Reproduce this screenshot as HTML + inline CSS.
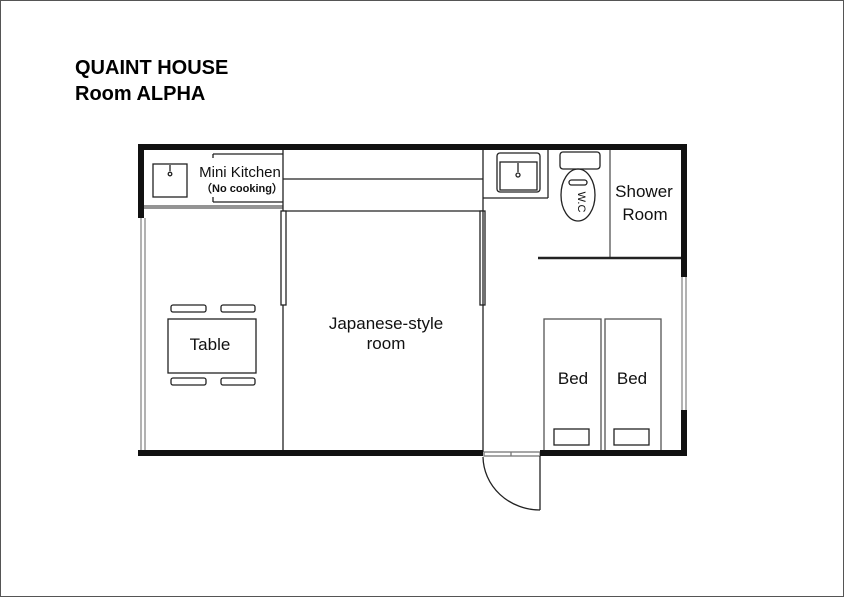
<!DOCTYPE html><html><head><style>body{margin:0;background:#fff}svg{display:block}</style></head><body>
<svg width="844" height="597" xmlns="http://www.w3.org/2000/svg" font-family="Liberation Sans, sans-serif">
<rect x="0.5" y="0.5" width="843" height="596" fill="#fff" stroke="#555"/>
<text x="75" y="74" font-size="20" font-weight="bold" fill="#000">QUAINT HOUSE</text>
<text x="75" y="100" font-size="20" font-weight="bold" fill="#000">Room ALPHA</text>
<g fill="none" stroke="#222" stroke-width="1.3">
<line x1="141" y1="218" x2="141" y2="450" stroke="#888"/><line x1="145" y1="218" x2="145" y2="450" stroke="#888"/>
<line x1="682" y1="277" x2="682" y2="410" stroke="#888"/><line x1="686" y1="277" x2="686" y2="410" stroke="#888"/>
<line x1="144" y1="206" x2="283" y2="206" stroke="#555"/><line x1="144" y1="208" x2="283" y2="208" stroke="#555"/>
<rect x="153" y="164" width="34" height="33"/><line x1="170" y1="165" x2="170" y2="171"/><circle cx="170" cy="174" r="1.8"/>
<line x1="213" y1="154" x2="213" y2="158"/><line x1="213" y1="154" x2="283" y2="154"/>
<line x1="213" y1="197" x2="213" y2="202"/><line x1="213" y1="202" x2="283" y2="202"/>
<line x1="283" y1="150" x2="283" y2="452"/>
<line x1="283" y1="179" x2="483" y2="179"/><line x1="283" y1="211" x2="483" y2="211"/>
<rect x="281" y="211" width="5" height="94" fill="#fff"/><rect x="480" y="211" width="5" height="94" fill="#fff"/>
<line x1="483" y1="150" x2="483" y2="452"/>
<line x1="483" y1="198" x2="548" y2="198"/><line x1="548" y1="150" x2="548" y2="198"/>
<rect x="497" y="153" width="43" height="39" rx="3"/><rect x="500" y="162" width="37" height="28"/>
<line x1="518" y1="163" x2="518" y2="172"/><circle cx="518" cy="175" r="2"/>
<rect x="560" y="152" width="40" height="17" rx="3"/>
<ellipse cx="578" cy="195" rx="17" ry="26"/>
<rect x="569" y="180" width="18" height="5" rx="2.5"/>
<line x1="610" y1="150" x2="610" y2="258" stroke="#555"/>
<line x1="538" y1="258" x2="681" y2="258" stroke-width="2.5"/>
<rect x="544" y="319" width="57" height="132" stroke="#555"/><rect x="605" y="319" width="56" height="132" stroke="#555"/>
<rect x="554" y="429" width="35" height="16"/><rect x="614" y="429" width="35" height="16"/>
<rect x="168" y="319" width="88" height="54"/>
<rect x="171" y="305" width="35" height="7" rx="2"/><rect x="221" y="305" width="34" height="7" rx="2"/>
<rect x="171" y="378" width="35" height="7" rx="2"/><rect x="221" y="378" width="34" height="7" rx="2"/>
<rect x="484" y="452" width="56" height="4" stroke="#777"/><line x1="511" y1="452" x2="511" y2="456" stroke="#777"/>
<line x1="540" y1="456" x2="540" y2="510"/><path d="M483,457 A57,54 0 0 0 540,510"/>
</g>
<g fill="#111">
<rect x="138" y="144" width="549" height="6"/>
<rect x="138" y="144" width="6" height="74"/>
<rect x="681" y="144" width="6" height="133"/>
<rect x="681" y="410" width="6" height="46"/>
<rect x="138" y="450" width="345" height="6"/>
<rect x="540" y="450" width="147" height="6"/>
</g>
<g fill="#111" font-size="17" text-anchor="middle">
<text x="240" y="177" font-size="15">Mini Kitchen</text>
<text x="242" y="192" font-size="11" font-weight="bold">（No cooking）</text>
<text x="644" y="197">Shower</text><text x="645" y="220">Room</text>
<text x="386" y="329">Japanese-style</text><text x="386" y="349">room</text>
<text x="210" y="350">Table</text>
<text x="573" y="384">Bed</text><text x="632" y="384">Bed</text>
<text x="578" y="202" font-size="11" transform="rotate(90 578 202)">W.C</text>
</g>
</svg></body></html>
